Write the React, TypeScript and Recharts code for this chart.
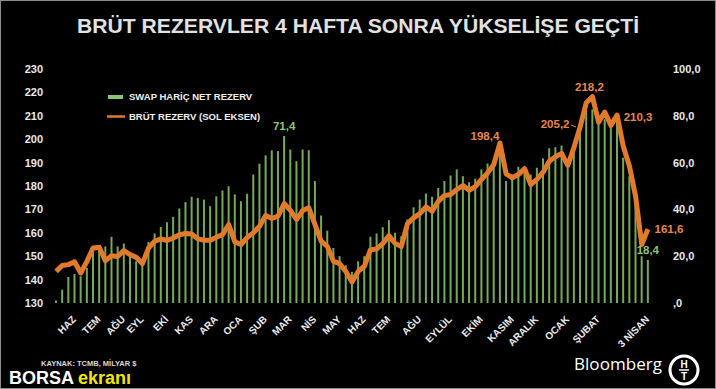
import { Bar, ComposedChart, LabelList, Line, XAxis, YAxis } from "recharts"

// haftalık seriler (milyar $)
const grossReserve = [
  143.5, 146.0, 146.4, 147.6, 142.8, 147.8, 153.5, 153.8, 148.1, 150.2, 149.9, 152.4, 150.7, 149.5, 146.8, 153.5,
  156.4, 157.4, 156.7, 157.8, 159.2, 159.7, 159.5, 157.4, 156.8, 156.8, 158.1, 159.2, 163.5, 156.1, 155.0, 158.0,
  160.0, 162.8, 167.4, 166.1, 167.1, 172.5, 169.6, 165.7, 169.5, 170.7, 163.5, 156.4, 154.2, 147.8, 146.8, 143.5,
  139.0, 143.5, 145.7, 152.8, 153.1, 155.4, 158.8, 155.4, 154.2, 163.9, 166.4, 168.2, 171.1, 169.2, 173.5, 175.9,
  176.4, 178.5, 180.2, 178.2, 179.7, 182.8, 185.6, 189.2, 198.4, 185.2, 183.5, 184.9, 187.4, 180.6, 182.8, 185.9,
  190.6, 192.5, 193.9, 188.8, 196.4, 205.2, 215.6, 218.2, 207.3, 211.6, 205.9, 210.3, 197.0, 188.5, 175.6, 155.0,
  161.6,
]

const netReserve = [
  1.1, 5.7, 11.1, 12.4, 11.4, 15.0, 21.7, 24.2, 24.2, 28.3, 24.2, 25.4, 20.0, 17.8, 17.8, 26.1,
  29.7, 32.5, 34.5, 36.8, 40.4, 43.1, 45.4, 44.9, 44.2, 41.4, 45.6, 48.1, 49.9, 46.4, 43.5, 46.7,
  54.9, 59.5, 63.1, 65.2, 64.9, 71.4, 65.6, 60.6, 65.6, 65.3, 52.1, 37.4, 30.9, 23.5, 20.0, 16.1,
  13.3, 17.8, 20.0, 28.3, 29.7, 32.4, 35.4, 30.0, 28.5, 35.7, 40.9, 44.2, 46.8, 45.4, 49.2, 52.1,
  54.5, 57.1, 54.2, 51.6, 53.1, 57.1, 59.6, 61.3, 68.5, 52.1, 54.9, 58.2, 57.1, 54.9, 57.8, 61.8,
  66.1, 66.6, 67.3, 59.2, 65.6, 74.2, 82.4, 82.7, 77.7, 78.5, 77.1, 78.5, 62.1, 54.2, 44.9, 20.0,
  18.4,
]

const monthLabels = [
  "HAZ", "TEM", "AĞU", "EYL", "EKİ", "KAS", "ARA", "OCA", "ŞUB", "MAR", "NİS", "MAY",
  "HAZ", "TEM", "AĞU", "EYLÜL", "EKİM", "KASIM", "ARALIK", "OCAK", "ŞUBAT", "3 NİSAN",
]
const monthWeeks = [3, 7, 11, 14, 18, 22, 26, 30, 34, 38, 42, 46, 50, 54, 59, 64, 69, 74, 78, 83, 88, 96]

const leftTicks = [130, 140, 150, 160, 170, 180, 190, 200, 210, 220, 230]
const rightTicks = [0, 20, 40, 60, 80, 100]

// etiketlenen haftalar
const grossNotes = [72, 85, 87, 91, 96]
const netNotes = [37, 96]

const data = grossReserve.map((g, i) => ({ week: i, gross: g, net: netReserve[i] }))

const ORANGE = "#e27a2c"
const GREEN = "#74aa58"
const FONT = "'Liberation Sans', Arial, sans-serif"

const fmt = (v: number) => (v === 0 ? ",0" : v.toFixed(1).replace(".", ","))

const MonthTick = ({ x, y, payload }: any) => {
  const label = monthLabels[monthWeeks.indexOf(payload.value)]
  return (
    <text
      x={x + 2}
      y={y + 9}
      transform={`rotate(-45, ${x + 2}, ${y + 9})`}
      textAnchor="end"
      fill="#ececec"
      fontSize={10}
      fontWeight={700}
      fontFamily={FONT}
    >
      {label}
    </text>
  )
}

// çizgi etiketleri için kaydırmalar
const grossOffsets: Record<number, [number, number]> = {
  72: [-15, -7],
  85: [-25, -3],
  87: [-3, -10],
  91: [21, 2],
  96: [21, 0],
}

const GrossLabel = ({ x, y, value, index }: any) => {
  if (!grossNotes.includes(index)) return null
  const [dx, dy] = grossOffsets[index]
  return (
    <g>
      <text
        x={x + dx}
        y={y + dy}
        dy="0.36em"
        textAnchor="middle"
        fill="#e8864a"
        fontSize={11.5}
        fontWeight={700}
        fontFamily={FONT}
      >
        {fmt(value)}
      </text>
      {index === 85 && <line x1={x - 9} y1={y - 2} x2={x - 4} y2={y} stroke="#e8864a" strokeWidth={1} />}
    </g>
  )
}

const NetLabel = ({ x, y, width, value, index }: any) => {
  if (!netNotes.includes(index)) return null
  return (
    <text
      x={x + width / 2}
      y={y - 10}
      dy="0.36em"
      textAnchor="middle"
      fill="#8fc46e"
      fontSize={11.5}
      fontWeight={700}
      fontFamily={FONT}
    >
      {fmt(value)}
    </text>
  )
}

export default function App() {
  return (
    <div style={{ position: "relative", width: 716, height: 389, background: "#000", overflow: "hidden" }}>
      <style>{"body{margin:0;background:#000}"}</style>
      <ComposedChart
        width={716}
        height={389}
        data={data}
        margin={{ top: 69, right: 0, bottom: 56, left: 0 }}
        barCategoryGap={0}
      >
        <XAxis
          dataKey="week"
          ticks={monthWeeks}
          interval={0}
          height={30}
          axisLine={false}
          tickLine={false}
          tick={<MonthTick />}
        />
        <YAxis
          yAxisId="left"
          orientation="left"
          domain={[130, 230]}
          ticks={leftTicks}
          width={53}
          axisLine={false}
          tickLine={false}
          tickMargin={4}
          tick={{ fill: "#e8e8e8", fontSize: 11, fontWeight: 700, fontFamily: FONT }}
        />
        <YAxis
          yAxisId="right"
          orientation="right"
          domain={[0, 100]}
          ticks={rightTicks}
          width={65}
          axisLine={false}
          tickLine={false}
          tickMargin={16}
          tickFormatter={fmt}
          tick={{ fill: "#e8e8e8", fontSize: 11, fontWeight: 700, fontFamily: FONT }}
        />
        <Bar dataKey="net" yAxisId="right" fill={GREEN} barSize={2} isAnimationActive={false}>
          <LabelList dataKey="net" content={<NetLabel />} />
        </Bar>
        <Line
          dataKey="gross"
          yAxisId="left"
          type="linear"
          stroke={ORANGE}
          strokeWidth={5}
          strokeLinejoin="round"
          dot={false}
          isAnimationActive={false}
        >
          <LabelList dataKey="gross" content={<GrossLabel />} />
        </Line>
      </ComposedChart>

      <svg width={716} height={389} style={{ position: "absolute", left: 0, top: 0, pointerEvents: "none" }}>
        <rect x={0.5} y={0.5} width={715} height={388} fill="none" stroke="#8c8c8c" />
        <text
          x={358}
          y={33}
          textAnchor="middle"
          fill="#e2e2e2"
          fontSize={20}
          fontWeight={700}
          fontFamily={FONT}
          textLength={562}
          lengthAdjust="spacingAndGlyphs"
        >
          BRÜT REZERVLER 4 HAFTA SONRA YÜKSELİŞE GEÇTİ
        </text>

        <rect x={108} y={95} width={15} height={4} fill="#8cc46c" />
        <text x={129} y={100} fill="#f0f0f0" fontSize={9.5} fontWeight={700} fontFamily={FONT}>
          SWAP HARİÇ NET REZERV
        </text>
        <line x1={107} x2={125} y1={116.5} y2={116.5} stroke={ORANGE} strokeWidth={2.5} />
        <text x={129} y={120} fill="#f0f0f0" fontSize={9.5} fontWeight={700} fontFamily={FONT}>
          BRÜT REZERV (SOL EKSEN)
        </text>

        <text x={41} y={366} fill="#d8d8d8" fontSize={7.5} fontWeight={700} fontFamily={FONT}>
          KAYNAK: TCMB, MİLYAR $
        </text>
        <text x={9} y={384} fontSize={18} fontWeight={700} fontFamily={FONT}>
          <tspan fill="#ffffff">BORSA</tspan>
          <tspan fill="#f2e600" dx={4}>ekranı</tspan>
        </text>

        <text x={574} y={370} fill="#ffffff" fontSize={17} fontFamily="'Open Sans', sans-serif" textLength={88}>
          Bloomberg
        </text>
        <circle cx={684} cy={370} r={14} fill="#000" stroke="#fff" strokeWidth={3} />
        <text x={684} y={368} textAnchor="middle" fill="#fff" fontSize={10} fontWeight={700} fontFamily={FONT}>
          H
        </text>
        <line x1={679} x2={689} y1={370} y2={370} stroke="#fff" strokeWidth={1.5} />
        <text x={684} y={380} textAnchor="middle" fill="#fff" fontSize={10} fontWeight={700} fontFamily={FONT}>
          T
        </text>
      </svg>
    </div>
  )
}
